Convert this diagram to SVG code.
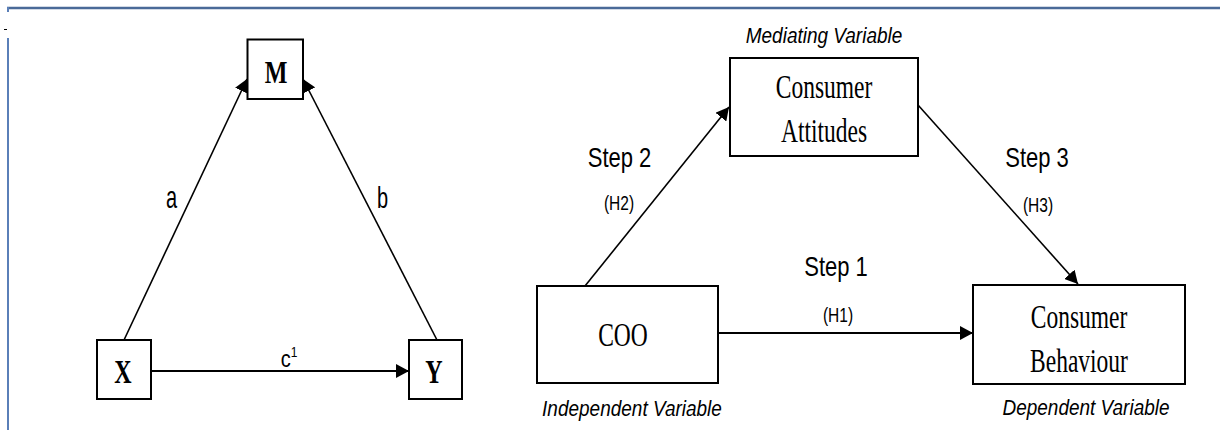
<svg xmlns="http://www.w3.org/2000/svg" width="1220" height="430" viewBox="0 0 1220 430">
<style>
.box{fill:#fff;stroke:#000;stroke-width:2}
.ln{stroke:#000;stroke-width:1.6;fill:none}
.lnh{stroke:#000;stroke-width:2;fill:none}
.tb{font-family:"Liberation Serif","Times New Roman",serif;font-size:24px;font-weight:bold;text-anchor:middle}
.ts{font-family:"Liberation Serif","Times New Roman",serif;font-size:23.5px;text-anchor:middle}
.st{font-family:"Liberation Sans",Arial,sans-serif;font-size:22px;text-anchor:middle}
.hp{font-family:"Liberation Sans",Arial,sans-serif;font-size:15.5px;text-anchor:middle}
.it{font-family:"Liberation Sans",Arial,sans-serif;font-size:19px;font-style:italic;text-anchor:middle}
.lb{font-family:"Liberation Sans",Arial,sans-serif;font-size:20px;text-anchor:middle}
</style>
<defs>
<marker id="arr" markerUnits="userSpaceOnUse" markerWidth="13" markerHeight="14" refX="13" refY="7" orient="auto">
<path d="M0,0 L13,7 L0,14 z" fill="#000"/>
</marker>
</defs>
<rect width="1220" height="430" fill="#fff"/>
<g id="frame">
<line x1="7" y1="8" x2="1220" y2="8" stroke="#4a6a98" stroke-width="2.5"/>
<line x1="8" y1="7" x2="8" y2="12" stroke="#5a7fb8" stroke-width="2"/>
<line x1="8" y1="38" x2="8" y2="430" stroke="#5a7fb8" stroke-width="2"/>
<line x1="4" y1="29.5" x2="7" y2="29.5" stroke="#000" stroke-width="1"/>
</g>
<g id="connectors">
<line class="ln" x1="124" y1="340" x2="247" y2="79" marker-end="url(#arr)"/>
<line class="ln" x1="437" y1="340" x2="303" y2="79" marker-end="url(#arr)"/>
<line class="lnh" x1="151" y1="371" x2="409" y2="371" marker-end="url(#arr)"/>
<line class="ln" x1="585" y1="286" x2="729" y2="107" marker-end="url(#arr)"/>
<line class="ln" x1="918" y1="105" x2="1078" y2="284" marker-end="url(#arr)"/>
<line class="lnh" x1="718" y1="333" x2="973" y2="333" marker-end="url(#arr)"/>
</g>
<g id="labels">
<text class="lb" transform="translate(171.5,208) scale(1,1.55)">a</text>
<text class="lb" transform="translate(382.5,208) scale(1,1.5)">b</text>
<text class="lb" transform="translate(289,367) scale(1,1.15)">c<tspan font-size="12px" dy="-9">1</tspan></text>
<text class="st" transform="translate(619.5,167) scale(1,1.27)">Step 2</text>
<text class="hp" transform="translate(619,210) scale(1,1.25)">(H2)</text>
<text class="st" transform="translate(836,276) scale(1,1.27)">Step 1</text>
<text class="hp" transform="translate(838,322) scale(1,1.25)">(H1)</text>
<text class="st" transform="translate(1037,167) scale(1,1.27)">Step 3</text>
<text class="hp" transform="translate(1038,212) scale(1,1.25)">(H3)</text>
<text class="it" transform="translate(824,43) scale(1,1.12)">Mediating Variable</text>
<text class="it" transform="translate(632,416) scale(1,1.12)">Independent  Variable</text>
<text class="it" transform="translate(1086,415) scale(1,1.12)">Dependent  Variable</text>
</g>
<g id="node-M">
<rect class="box" x="247.5" y="39.5" width="55.5" height="59.5"/>
<text class="tb" transform="translate(276,83) scale(1,1.35)">M</text>
</g>
<g id="node-X">
<rect class="box" x="97" y="340" width="54" height="59"/>
<text class="tb" transform="translate(123,383) scale(1,1.4)">X</text>
</g>
<g id="node-Y">
<rect class="box" x="409" y="340" width="53" height="59"/>
<text class="tb" transform="translate(434,383) scale(1,1.4)">Y</text>
</g>
<g id="node-attitudes">
<rect class="box" x="730" y="58" width="188" height="98"/>
<text class="ts" transform="translate(824,98) scale(1,1.4)">Consumer</text>
<text class="ts" transform="translate(824,142) scale(1,1.4)">Attitudes</text>
</g>
<g id="node-coo">
<rect class="box" x="537" y="286" width="181" height="97"/>
<text class="ts" transform="translate(623,346) scale(1,1.4)">COO</text>
</g>
<g id="node-behaviour">
<rect class="box" x="973" y="285" width="212" height="99"/>
<text class="ts" transform="translate(1079,328) scale(1,1.4)">Consumer</text>
<text class="ts" transform="translate(1079,372) scale(1,1.4)">Behaviour</text>
</g>
</svg>
